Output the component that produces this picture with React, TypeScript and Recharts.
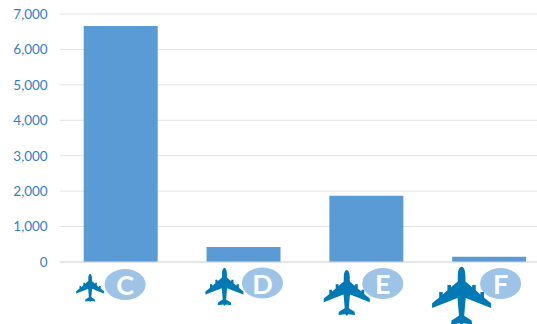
import React from "react";
import { BarChart, Bar, XAxis, YAxis, CartesianGrid } from "recharts";

const categories = ["C", "D", "E", "F"];
const movements = [6660, 420, 1870, 150];
const yTicks = [0, 1000, 2000, 3000, 4000, 5000, 6000, 7000];

const rows = categories.map((code, i) => ({ code, movements: movements[i] }));

// Aircraft silhouette in a box from -50 to 50, nose pointing up.
const PLANE =
  "M0,-50 C4,-50 6.5,-43 6.5,-34 L6.5,-25 L18,-15 L18,-19 L24,-19 L24,-10 L32,-3 L32,-7 L38,-7 L38,2 L50,12 L50,20 L24,10 L7,3 " +
  "L5.5,20 L4.5,33 L17,41 L18,48 L3,46 L0,50 L-3,46 L-18,48 L-17,41 L-4.5,33 L-5.5,20 L-7,3 L-24,10 L-50,20 L-50,12 L-38,2 L-38,-7 L-32,-7 L-32,-3 " +
  "L-24,-10 L-24,-19 L-18,-19 L-18,-15 L-6.5,-25 L-6.5,-34 C-6.5,-43 -4,-50 0,-50 Z";

// Icon and badge placement for each aircraft code, relative to the band centre.
const badges: Record<string, { px: number; py: number; size: number; ex: number; ey: number }> = {
  C: { px: -31, py: 288, size: 28, ex: 4, ey: 284.5 },
  D: { px: -19.5, py: 287, size: 38, ex: 18.5, ey: 283 },
  E: { px: -20, py: 293, size: 46, ex: 16, ey: 283.5 },
  F: { px: -28, py: 296.2, size: 59, ex: 11, ey: 283.5 },
};

function CodeTick({ x, payload }: any) {
  const b = badges[payload.value];
  return (
    <g>
      <path
        d={PLANE}
        fill="#0079B5"
        transform={`translate(${x + b.px},${b.py}) scale(${b.size / 100})`}
      />
      <ellipse cx={x + b.ex} cy={b.ey} rx={20.5} ry={15.5} fill="#9DC3E6" />
      <text
        x={x + b.ex}
        y={b.ey + 10.5}
        textAnchor="middle"
        fill="#FFFFFF"
        fontFamily="Lato, sans-serif"
        fontWeight={700}
        fontSize={27}
      >
        {payload.value}
      </text>
    </g>
  );
}

export default function App() {
  return (
    <div
      style={{
        position: "fixed",
        left: 0,
        top: 0,
        width: 537,
        height: 324,
        overflow: "hidden",
        background: "#fff",
      }}
    >
      <BarChart
        width={551}
        height={324}
        data={rows}
        margin={{ top: 14, right: 0, bottom: 0, left: 0 }}
        barSize={74}
      >
        <CartesianGrid vertical={false} stroke="#E2E2E2" />
        <XAxis
          dataKey="code"
          height={62}
          interval={0}
          axisLine={{ stroke: "#D9D9D9" }}
          tickLine={false}
          tick={<CodeTick />}
        />
        <YAxis
          width={59.7}
          domain={[0, 7000]}
          ticks={yTicks}
          axisLine={false}
          tickLine={false}
          tickMargin={6}
          tickFormatter={(v: number) => v.toLocaleString("en-US")}
          tick={{ fill: "#2F80C4", fontFamily: "Lato, sans-serif", fontSize: 13.5 }}
        />
        <Bar dataKey="movements" fill="#5B9BD5" isAnimationActive={false} />
      </BarChart>
    </div>
  );
}
